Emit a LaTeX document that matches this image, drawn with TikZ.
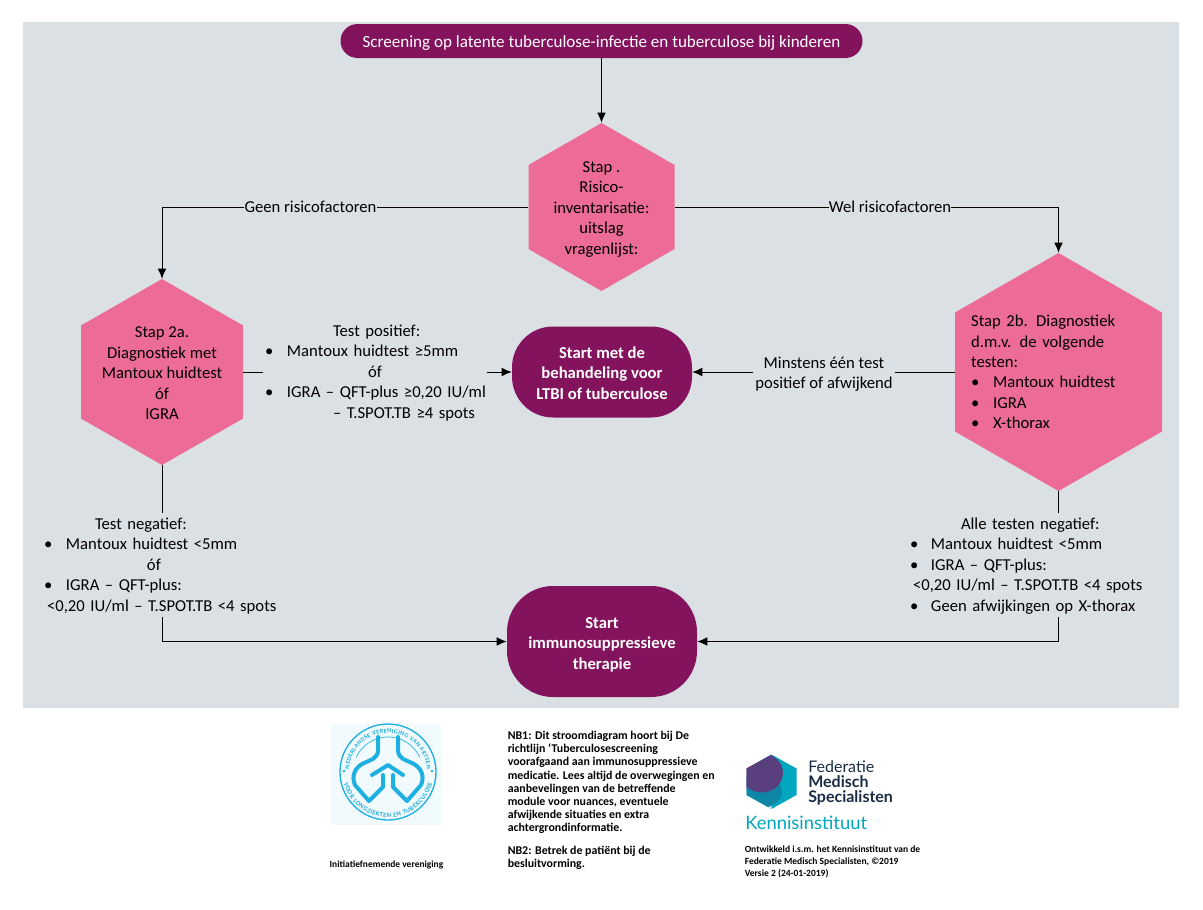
\documentclass[tikz,border=0pt]{standalone}
\usepackage{fontspec}
\setmainfont{Carlito}
\newfontfamily\logofont{Lato}
\usetikzlibrary{arrows.meta,calc,decorations.text}
\definecolor{panelgrey}{HTML}{DBE0E4}
\definecolor{plum}{HTML}{84135E}
\definecolor{rosepink}{HTML}{EC6C97}
\definecolor{lungblue}{HTML}{1FB0E2}
\definecolor{logopale}{HTML}{F1FAFD}
\definecolor{fmsteal}{HTML}{00A7BF}
\definecolor{fmsdeep}{HTML}{0E87A6}
\definecolor{fmspurple}{HTML}{5A3F7E}
\definecolor{fmspink}{HTML}{E63B72}
\definecolor{fmsgrey}{HTML}{D9DFE4}
\definecolor{fmsnavy}{HTML}{1A2B44}
\newcommand\ind[1]{\hspace*{\dimexpr #1pt*3/4\relax}}
\newcommand\bul[2]{\ind{#1}\makebox[\dimexpr #2pt*3/4\relax][l]{\textbullet}}
\newcommand\lowr[1]{\rule{0pt}{\dimexpr 8.5pt+#1pt*3/2\relax}}
\tikzset{
  hexa/.style n args={2}{minimum width=#1*0.75pt,minimum height=#2*0.75pt,inner sep=0pt,
    path picture={\fill[rosepink]
      (path picture bounding box.north)
      -- ($(path picture bounding box.north east)!0.25!(path picture bounding box.south east)$)
      -- ($(path picture bounding box.north east)!0.75!(path picture bounding box.south east)$)
      -- (path picture bounding box.south)
      -- ($(path picture bounding box.north west)!0.75!(path picture bounding box.south west)$)
      -- ($(path picture bounding box.north west)!0.25!(path picture bounding box.south west)$)
      -- cycle;}},
  pill/.style n args={3}{fill=plum,text=white,align=center,inner sep=0pt,
    minimum width=#1*0.75pt,minimum height=#2*0.75pt,rounded corners=#3*0.75pt},
  body/.style={font=\fontsize{12.5}{15.35}\selectfont},
  note/.style={inner sep=0pt,align=left,text=black},
  wire/.style={draw=black,line width=0.75pt},
  flow/.style={wire,-{Latex[length=7.5pt,width=6.5pt]}},
}
\begin{document}
\begin{tikzpicture}[x=0.75pt,y=-0.75pt,body]
\useasboundingbox (0,0) rectangle (1203,910);
\fill[white] (0,0) rectangle (1203,910);
\fill[panelgrey] (23,22) rectangle (1179,708);

\node[pill={522}{34}{17},font=\fontsize{12.8}{15.35}\selectfont] (title) at (601.5,41) {\lowr{2}Screening op latente tuberculose-infectie en tuberculose bij kinderen};
\node[hexa={146}{168},align=center] (h0) at (601.5,207) {\lowr{2}Stap .\\Risico-\\inventarisatie:\\uitslag\\vragenlijst:};
\node[hexa={162}{186},align=center] (h2a) at (162,372) {\lowr{1}Stap 2a.\\Diagnostiek met\\Mantoux huidtest\\óf\\IGRA};
\node[hexa={207}{238},align=left,text width=131pt,inner xsep=12pt] (h2b) at (1058.5,372) {Stap 2b. Diagnostiek\\d.m.v. de volgende\\testen:\\\bul{0}{22}Mantoux huidtest\\\bul{0}{22}IGRA\\\bul{0}{22}X-thorax};
\node[pill={180}{91}{41},font=\fontsize{12.5}{15.35}\selectfont\bfseries] (s1) at (602,372) {\lowr{1}Start met de\\behandeling voor\\LTBI of tuberculose};
\node[pill={190}{111}{46},font=\fontsize{12.5}{15.35}\selectfont\bfseries] (s2) at (602,641.5) {\lowr{3}Start\\immunosuppressieve\\therapie};

\node[inner sep=0pt] (geen) at (310.5,207) {Geen risicofactoren};
\node[inner sep=0pt] (wel) at (890,207) {Wel risicofactoren};
\node[note,text width=168pt,minimum height=78pt] (tp) at (375,372) {\lowr{1}\ind{70}Test positief:\\\bul{2}{22}Mantoux huidtest ≥5mm\\\ind{105}óf\\\bul{2}{22}\rlap{IGRA – QFT-plus ≥0,20 IU/ml}\\\ind{70}– T.SPOT.TB ≥4 spots};
\node[note,text width=177pt,minimum height=78pt] (tn) at (162,565) {\lowr{1}\ind{51}Test negatief:\\\bul{0}{22}Mantoux huidtest <5mm\\\ind{103}óf\\\bul{0}{22}IGRA – QFT-plus:\\\ind{3}<0,20 IU/ml – T.SPOT.TB <4 spots};
\node[note,text width=178.5pt,minimum height=78pt] (an) at (1027,565) {\lowr{1}\ind{53}Alle testen negatief:\\\bul{2}{21}Mantoux huidtest <5mm\\\bul{2}{21}IGRA – QFT-plus:\\\ind{5}<0,20 IU/ml – T.SPOT.TB <4 spots\\\bul{2}{21}Geen afwijkingen op X-thorax};
\node[inner sep=0pt,align=center,minimum width=106pt] (mt) at (824,372) {\lowr{2}Minstens één test\\positief of afwijkend};

\draw[flow] (title) -- (h0.north);
\draw[wire] (h0.west) -- (geen.east);
\draw[flow] (geen.west) -| (h2a.north);
\draw[wire] (h0.east) -- (wel.west);
\draw[flow] (wel.east) -| (h2b.north);
\draw[wire] (h2a.east) -- (tp.west);
\draw[flow] (tp.east) -- (s1.west);
\draw[wire] (h2b.west) -- (mt.east);
\draw[flow] (mt.west) -- (s1.east);
\draw[wire] (h2a.south) -- (tn.north);
\draw[flow] (tn.south) |- (s2.west);
\draw[wire] (h2b.south) -- (h2b.south |- an.north);
\draw[flow] (h2b.south |- an.south) |- (s2.east);

% footer texts
\node[note,anchor=north west,font=\fontsize{8.9}{9.85}\selectfont\bfseries] (nb1) at (507.5,731) {NB1: Dit stroomdiagram hoort bij De\\richtlijn ‘Tuberculosescreening\\voorafgaand aan immunosuppressieve\\medicatie. Lees altijd de overwegingen en\\aanbevelingen van de betreffende\\module voor nuances, eventuele\\afwijkende situaties en extra\\achtergrondinformatie.};
\node[note,anchor=north west,font=\fontsize{8.9}{9.85}\selectfont\bfseries] (nb2) at (507.5,846) {NB2: Betrek de patiënt bij de\\besluitvorming.};
\node[note,anchor=north west,font=\fontsize{7.15}{9}\selectfont\bfseries] (ont) at (744.5,846) {Ontwikkeld i.s.m. het Kennisinstituut van de\\Federatie Medisch Specialisten, ©2019\\Versie 2 (24-01-2019)};
\node[note,font=\fontsize{7.1}{9}\selectfont\bfseries] (ini) at (386.5,865) {Initiatiefnemende vereniging};

% NVALT logo
\fill[logopale] (331,724) rectangle (441,825);
\begin{scope}[shift={(388,772)},x=0.75pt,y=0.75pt,line cap=round,line join=round]
  \draw[lungblue,line width=1pt] (0,0) circle[radius=48];
  \draw[lungblue,line width=0.5pt] (155:35) arc[start angle=155,end angle=25,radius=35];
  \path[decorate,decoration={text along path,text align={fit to path},
    text={|\fontsize{4.6}{5}\selectfont\bfseries\color{lungblue}|NEDERLANDSE VERENIGING VAN ARTSEN}}]
    (176:39) arc[start angle=176,end angle=4,radius=39];
  \path[decorate,decoration={text along path,text align={fit to path},
    text={|\fontsize{4.9}{5}\selectfont\bfseries\color{lungblue}|VOOR LONGZIEKTEN EN TUBERCULOSE}}]
    (194:45.5) arc[start angle=194,end angle=346,radius=45.5];
  \fill[lungblue] (-44,1) circle[radius=1.3] (44,1) circle[radius=1.3];
  \begin{scope}[line width=3pt,lungblue]
    \foreach \s in {-1,1}{
      \draw[xscale=\s] (10,35) -- (10,22) .. controls (10,13) and (18,12) .. (24,9)
        .. controls (33,5) and (37,-4) .. (33,-13) -- (19,-29)
        -- (5,-15) -- (5,-3);
    }
    \draw (-16,-3) -- (0,7) -- (15,-3);
  \end{scope}
\end{scope}

% FMS logo
\begin{scope}
  \clip (771.5,754.5) -- (796.5,768.5) -- (796.5,795) -- (771.5,809) -- (746.5,795) -- (746.5,768.5) -- cycle;
  \fill[fmsteal] (740,750) rectangle (800,812);
  \fill[fmspink] (746,766) rectangle (760,790);
  \fill[fmsgrey] (746,790) -- (771.5,803) -- (771.5,812) -- (746,800) -- cycle;
  \fill[fmsdeep] (756,792) ellipse[x radius=26,y radius=17];
  \fill[fmspurple] (762,773) ellipse[x radius=21,y radius=19.5];
\end{scope}
\node[inner sep=0pt,anchor=west,text=fmsnavy,font=\logofont\fontsize{12}{12}\selectfont] (fed) at (808,767) {Federatie};
\node[inner sep=0pt,anchor=west,text=fmsnavy,font=\logofont\fontsize{12}{12}\selectfont\bfseries] (med) at (808,782) {Medisch};
\node[inner sep=0pt,anchor=west,text=fmsnavy,font=\logofont\fontsize{12}{12}\selectfont\bfseries] (spe) at (808,798) {Specialisten};
\node[inner sep=0pt,anchor=west,text=fmsteal,font=\logofont\fontsize{13.8}{14}\selectfont] (ken) at (745,823) {Kennisinstituut};
\end{tikzpicture}
\end{document}
